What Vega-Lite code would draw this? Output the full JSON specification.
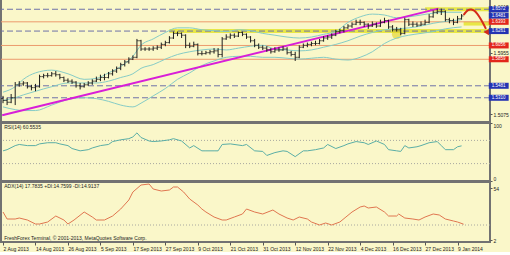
{
"$schema":"https://vega.github.io/schema/vega-lite/v6.json",
"padding":{"left":-3,"top":-2,"right":0,"bottom":0},
"background":"#FAF7C9",
"spacing":1,
"bounds":"flush",
"config":{
 "view":{"stroke":"#727272","strokeWidth":2},
 "font":"Liberation Sans",
 "axis":{"labelFont":"Liberation Sans","labelFontSize":5,"labelColor":"#222222","tickColor":"#555555","tickSize":2,"labelPadding":1,"domain":false,"grid":false,"labelFlush":true,"labelOverlap":false}
},
"datasets":{
"bars":[
{"i":0,"o":1.5298,"h":1.5337,"l":1.5233,"c":1.5272},
{"i":1,"o":1.5272,"h":1.5311,"l":1.5206,"c":1.5246},
{"i":2,"o":1.5246,"h":1.5364,"l":1.5233,"c":1.5311},
{"i":3,"o":1.5311,"h":1.5534,"l":1.5206,"c":1.5495},
{"i":4,"o":1.5495,"h":1.5547,"l":1.5468,"c":1.5508},
{"i":5,"o":1.5508,"h":1.5547,"l":1.5481,"c":1.5521},
{"i":6,"o":1.5521,"h":1.5534,"l":1.5442,"c":1.5468},
{"i":7,"o":1.5468,"h":1.5495,"l":1.5416,"c":1.5455},
{"i":8,"o":1.5455,"h":1.5508,"l":1.5403,"c":1.5468},
{"i":9,"o":1.5468,"h":1.5639,"l":1.5455,"c":1.5612},
{"i":10,"o":1.5612,"h":1.5652,"l":1.5586,"c":1.5626},
{"i":11,"o":1.5626,"h":1.5665,"l":1.5599,"c":1.5626},
{"i":12,"o":1.5626,"h":1.5678,"l":1.5612,"c":1.5652},
{"i":13,"o":1.5652,"h":1.5691,"l":1.5612,"c":1.5639},
{"i":14,"o":1.5639,"h":1.5652,"l":1.5573,"c":1.5599},
{"i":15,"o":1.5599,"h":1.5612,"l":1.5534,"c":1.556},
{"i":16,"o":1.556,"h":1.5586,"l":1.5521,"c":1.5547},
{"i":17,"o":1.5547,"h":1.5573,"l":1.5508,"c":1.5534},
{"i":18,"o":1.5534,"h":1.5547,"l":1.5455,"c":1.5481},
{"i":19,"o":1.5481,"h":1.5521,"l":1.5429,"c":1.5468},
{"i":20,"o":1.5468,"h":1.5521,"l":1.5455,"c":1.5495},
{"i":21,"o":1.5495,"h":1.5547,"l":1.5481,"c":1.5521},
{"i":22,"o":1.5521,"h":1.5573,"l":1.5495,"c":1.5547},
{"i":23,"o":1.5547,"h":1.5612,"l":1.5534,"c":1.5573},
{"i":24,"o":1.5573,"h":1.5639,"l":1.5547,"c":1.5599},
{"i":25,"o":1.5599,"h":1.5652,"l":1.556,"c":1.5599},
{"i":26,"o":1.5599,"h":1.5678,"l":1.5586,"c":1.5652},
{"i":27,"o":1.5652,"h":1.5717,"l":1.5626,"c":1.5691},
{"i":28,"o":1.5691,"h":1.5756,"l":1.5665,"c":1.573},
{"i":29,"o":1.573,"h":1.5809,"l":1.5704,"c":1.5783},
{"i":30,"o":1.5783,"h":1.5848,"l":1.5756,"c":1.5822},
{"i":31,"o":1.5822,"h":1.5887,"l":1.5796,"c":1.5861},
{"i":32,"o":1.5861,"h":1.5914,"l":1.5848,"c":1.5887},
{"i":33,"o":1.5887,"h":1.6149,"l":1.5874,"c":1.6123},
{"i":34,"o":1.6123,"h":1.6136,"l":1.5979,"c":1.6005},
{"i":35,"o":1.6005,"h":1.6031,"l":1.5979,"c":1.6005},
{"i":36,"o":1.6005,"h":1.6031,"l":1.5979,"c":1.6005},
{"i":37,"o":1.6005,"h":1.6045,"l":1.5979,"c":1.6018},
{"i":38,"o":1.6018,"h":1.6058,"l":1.5992,"c":1.6031},
{"i":39,"o":1.6031,"h":1.6097,"l":1.6005,"c":1.6071},
{"i":40,"o":1.6071,"h":1.6123,"l":1.6045,"c":1.6097},
{"i":41,"o":1.6097,"h":1.6189,"l":1.6084,"c":1.6162},
{"i":42,"o":1.6162,"h":1.6254,"l":1.6149,"c":1.6228},
{"i":43,"o":1.6228,"h":1.6254,"l":1.6189,"c":1.6228},
{"i":44,"o":1.6228,"h":1.6241,"l":1.6162,"c":1.6202},
{"i":45,"o":1.6202,"h":1.6215,"l":1.6018,"c":1.6058},
{"i":46,"o":1.6058,"h":1.6097,"l":1.6018,"c":1.6045},
{"i":47,"o":1.6045,"h":1.611,"l":1.6031,"c":1.6071},
{"i":48,"o":1.6071,"h":1.6084,"l":1.5914,"c":1.594},
{"i":49,"o":1.594,"h":1.5979,"l":1.5914,"c":1.594},
{"i":50,"o":1.594,"h":1.5979,"l":1.5927,"c":1.5953},
{"i":51,"o":1.5953,"h":1.5992,"l":1.5927,"c":1.5966},
{"i":52,"o":1.5966,"h":1.6018,"l":1.594,"c":1.5979},
{"i":53,"o":1.5979,"h":1.6018,"l":1.5887,"c":1.5927},
{"i":54,"o":1.5927,"h":1.6176,"l":1.5887,"c":1.6149},
{"i":55,"o":1.6149,"h":1.6215,"l":1.6136,"c":1.6176},
{"i":56,"o":1.6176,"h":1.6228,"l":1.6149,"c":1.6202},
{"i":57,"o":1.6202,"h":1.6228,"l":1.6162,"c":1.6189},
{"i":58,"o":1.6189,"h":1.6254,"l":1.6176,"c":1.6241},
{"i":59,"o":1.6241,"h":1.6254,"l":1.6189,"c":1.6215},
{"i":60,"o":1.6215,"h":1.6228,"l":1.6149,"c":1.6176},
{"i":61,"o":1.6176,"h":1.6189,"l":1.6097,"c":1.6123},
{"i":62,"o":1.6123,"h":1.6149,"l":1.6031,"c":1.6058},
{"i":63,"o":1.6058,"h":1.6084,"l":1.6005,"c":1.6031},
{"i":64,"o":1.6031,"h":1.6058,"l":1.5992,"c":1.6018},
{"i":65,"o":1.6018,"h":1.6045,"l":1.5966,"c":1.5992},
{"i":66,"o":1.5992,"h":1.6018,"l":1.594,"c":1.5966},
{"i":67,"o":1.5966,"h":1.6031,"l":1.5953,"c":1.5992},
{"i":68,"o":1.5992,"h":1.6031,"l":1.5966,"c":1.5992},
{"i":69,"o":1.5992,"h":1.6045,"l":1.5979,"c":1.6005},
{"i":70,"o":1.6005,"h":1.6031,"l":1.5927,"c":1.5953},
{"i":71,"o":1.5953,"h":1.5979,"l":1.5901,"c":1.5927},
{"i":72,"o":1.5927,"h":1.5966,"l":1.5835,"c":1.5887},
{"i":73,"o":1.5887,"h":1.6058,"l":1.5874,"c":1.6031},
{"i":74,"o":1.6031,"h":1.6084,"l":1.6018,"c":1.6058},
{"i":75,"o":1.6058,"h":1.6097,"l":1.6031,"c":1.6071},
{"i":76,"o":1.6071,"h":1.611,"l":1.6045,"c":1.6084},
{"i":77,"o":1.6084,"h":1.6123,"l":1.6058,"c":1.6084},
{"i":78,"o":1.6084,"h":1.6149,"l":1.6071,"c":1.6123},
{"i":79,"o":1.6123,"h":1.6189,"l":1.611,"c":1.6162},
{"i":80,"o":1.6162,"h":1.6202,"l":1.6136,"c":1.6176},
{"i":81,"o":1.6176,"h":1.6228,"l":1.6149,"c":1.6202},
{"i":82,"o":1.6202,"h":1.628,"l":1.6189,"c":1.6254},
{"i":83,"o":1.6254,"h":1.6293,"l":1.6228,"c":1.6267},
{"i":84,"o":1.6267,"h":1.6333,"l":1.6241,"c":1.6307},
{"i":85,"o":1.6307,"h":1.6359,"l":1.6293,"c":1.6333},
{"i":86,"o":1.6333,"h":1.6385,"l":1.6307,"c":1.6359},
{"i":87,"o":1.6359,"h":1.6424,"l":1.6346,"c":1.6385},
{"i":88,"o":1.6385,"h":1.6424,"l":1.6346,"c":1.6385},
{"i":89,"o":1.6385,"h":1.6398,"l":1.632,"c":1.6359},
{"i":90,"o":1.6359,"h":1.6372,"l":1.6293,"c":1.6333},
{"i":91,"o":1.6333,"h":1.6398,"l":1.632,"c":1.6359},
{"i":92,"o":1.6359,"h":1.6385,"l":1.6307,"c":1.6333},
{"i":93,"o":1.6333,"h":1.6424,"l":1.632,"c":1.6385},
{"i":94,"o":1.6385,"h":1.6451,"l":1.6372,"c":1.6411},
{"i":95,"o":1.6411,"h":1.6424,"l":1.6293,"c":1.632},
{"i":96,"o":1.632,"h":1.6346,"l":1.6254,"c":1.628},
{"i":97,"o":1.628,"h":1.632,"l":1.6254,"c":1.628},
{"i":98,"o":1.628,"h":1.6307,"l":1.6202,"c":1.6228},
{"i":99,"o":1.6228,"h":1.6451,"l":1.6215,"c":1.6424},
{"i":100,"o":1.6424,"h":1.6437,"l":1.6333,"c":1.6359},
{"i":101,"o":1.6359,"h":1.6398,"l":1.632,"c":1.6359},
{"i":102,"o":1.6359,"h":1.6385,"l":1.632,"c":1.6346},
{"i":103,"o":1.6346,"h":1.6398,"l":1.6333,"c":1.6359},
{"i":104,"o":1.6359,"h":1.6424,"l":1.6346,"c":1.6385},
{"i":105,"o":1.6385,"h":1.6503,"l":1.6372,"c":1.6464},
{"i":106,"o":1.6464,"h":1.6555,"l":1.6451,"c":1.6529},
{"i":107,"o":1.6529,"h":1.6582,"l":1.6503,"c":1.6542},
{"i":108,"o":1.6542,"h":1.6582,"l":1.649,"c":1.6542},
{"i":109,"o":1.6542,"h":1.6555,"l":1.6398,"c":1.6424},
{"i":110,"o":1.6424,"h":1.6451,"l":1.6372,"c":1.6411},
{"i":111,"o":1.6411,"h":1.6437,"l":1.6346,"c":1.6385},
{"i":112,"o":1.6385,"h":1.6477,"l":1.6372,"c":1.6437},
{"i":113,"o":1.6437,"h":1.6503,"l":1.6424,"c":1.6477}
],
"bb":[
{"i":0,"u":1.539,"m":1.5272,"l":1.518},
{"i":3,"u":1.5468,"m":1.5311,"l":1.5141},
{"i":5,"u":1.5573,"m":1.5351,"l":1.5128},
{"i":8,"u":1.5665,"m":1.5403,"l":1.5128},
{"i":12,"u":1.5704,"m":1.5468,"l":1.5206},
{"i":16,"u":1.5652,"m":1.5521,"l":1.5285},
{"i":20,"u":1.5573,"m":1.5521,"l":1.5311},
{"i":23,"u":1.5586,"m":1.5521,"l":1.5298},
{"i":26,"u":1.5665,"m":1.5547,"l":1.5259},
{"i":29,"u":1.5756,"m":1.5599,"l":1.5206},
{"i":32,"u":1.5901,"m":1.5652,"l":1.518},
{"i":34,"u":1.6058,"m":1.573,"l":1.5233},
{"i":37,"u":1.6149,"m":1.5783,"l":1.5337},
{"i":40,"u":1.6241,"m":1.5861,"l":1.5442},
{"i":43,"u":1.6307,"m":1.5927,"l":1.5573},
{"i":46,"u":1.6307,"m":1.5966,"l":1.5665},
{"i":49,"u":1.628,"m":1.5992,"l":1.577},
{"i":52,"u":1.6267,"m":1.6005,"l":1.5835},
{"i":55,"u":1.6254,"m":1.5992,"l":1.5887},
{"i":58,"u":1.628,"m":1.6018,"l":1.5901},
{"i":61,"u":1.6267,"m":1.6045,"l":1.5901},
{"i":64,"u":1.6228,"m":1.6058,"l":1.5887},
{"i":67,"u":1.6202,"m":1.6005,"l":1.5887},
{"i":70,"u":1.6176,"m":1.5992,"l":1.5874},
{"i":73,"u":1.6162,"m":1.5979,"l":1.5861},
{"i":76,"u":1.6176,"m":1.5992,"l":1.5874},
{"i":79,"u":1.6215,"m":1.6031,"l":1.5887},
{"i":82,"u":1.6254,"m":1.6071,"l":1.5861},
{"i":85,"u":1.6385,"m":1.6123,"l":1.5848},
{"i":88,"u":1.6464,"m":1.6189,"l":1.5887},
{"i":91,"u":1.6503,"m":1.6241,"l":1.5966},
{"i":94,"u":1.649,"m":1.628,"l":1.6084},
{"i":97,"u":1.6451,"m":1.6293,"l":1.6162},
{"i":100,"u":1.6464,"m":1.6307,"l":1.6202},
{"i":103,"u":1.649,"m":1.6333,"l":1.6228},
{"i":106,"u":1.6516,"m":1.6372,"l":1.6254},
{"i":109,"u":1.6529,"m":1.6398,"l":1.6293},
{"i":113,"u":1.6529,"m":1.6424,"l":1.632}
],
"dashLevels":[{"p":1.6572},{"p":1.6261},{"p":1.5481},{"p":1.531}],
"solidLevels":[{"p":1.6393},{"p":1.6056},{"p":1.5859}],
"zones":[{"a":41,"b":120,"p":1.6261},{"a":104,"b":120,"p":1.6572},{"a":113.5,"b":120,"p":1.6368}],
"spot":[{"i":97,"p":1.6215}],
"trend":[{"i":-0.2,"p":1.5062},{"i":107.3,"p":1.6581}],
"arrow":[{"i":113.5,"p":1.649},{"i":114.5,"p":1.6555},{"i":115.3,"p":1.6568},{"i":116,"p":1.6555},{"i":119,"p":1.6293}],
"arrowHead":[{"i":119.4,"p":1.6235}],
"tagsBlue":[{"p":1.6572},{"p":1.6481},{"p":1.6261},{"p":1.5481},{"p":1.531}],
"tagsRed":[{"p":1.6393},{"p":1.6056},{"p":1.5859}],
"rsi":[
{"i":0,"v":52},{"i":1,"v":54},{"i":3,"v":61},{"i":4,"v":63},{"i":6,"v":61},{"i":8,"v":61},{"i":9,"v":64},{"i":11,"v":66},{"i":13,"v":66},{"i":14,"v":64},{"i":16,"v":61},{"i":17,"v":56},{"i":19,"v":52},{"i":21,"v":54},{"i":22,"v":57},{"i":24,"v":61},{"i":26,"v":63},{"i":27,"v":68},{"i":29,"v":71},{"i":31,"v":73},{"i":32,"v":76},{"i":33,"v":83},{"i":34,"v":75},{"i":36,"v":69},{"i":37,"v":68},{"i":39,"v":69},{"i":41,"v":71},{"i":42,"v":73},{"i":44,"v":69},{"i":46,"v":57},{"i":47,"v":61},{"i":49,"v":52},{"i":50,"v":52},{"i":52,"v":52},{"i":53,"v":52},{"i":54,"v":63},{"i":56,"v":64},{"i":59,"v":61},{"i":60,"v":63},{"i":62,"v":52},{"i":64,"v":51},{"i":65,"v":44},{"i":67,"v":49},{"i":69,"v":52},{"i":70,"v":51},{"i":72,"v":42},{"i":74,"v":52},{"i":75,"v":52},{"i":77,"v":54},{"i":79,"v":57},{"i":80,"v":63},{"i":82,"v":56},{"i":84,"v":61},{"i":85,"v":64},{"i":87,"v":68},{"i":89,"v":66},{"i":90,"v":63},{"i":92,"v":69},{"i":94,"v":63},{"i":95,"v":54},{"i":97,"v":52},{"i":98,"v":51},{"i":99,"v":61},{"i":100,"v":57},{"i":102,"v":59},{"i":103,"v":61},{"i":105,"v":66},{"i":107,"v":68},{"i":108,"v":61},{"i":109,"v":54},{"i":111,"v":54},{"i":112,"v":59},{"i":113,"v":60.6}
],
"adx":[
{"i":0,"v":30},{"i":1,"v":23},{"i":3,"v":23},{"i":4,"v":24},{"i":6,"v":22},{"i":8,"v":18},{"i":9,"v":18},{"i":11,"v":20},{"i":13,"v":26},{"i":15,"v":22},{"i":16,"v":18},{"i":17.5,"v":22},{"i":20,"v":30},{"i":22,"v":25},{"i":23,"v":22},{"i":25,"v":22},{"i":27,"v":26},{"i":29,"v":33},{"i":31,"v":42},{"i":32,"v":50},{"i":34,"v":57},{"i":36,"v":58},{"i":37,"v":53},{"i":39,"v":51},{"i":41,"v":52},{"i":42,"v":55},{"i":43,"v":55},{"i":44.5,"v":50},{"i":46,"v":43},{"i":48,"v":37},{"i":49,"v":33},{"i":50,"v":30},{"i":52,"v":25},{"i":54,"v":22},{"i":55,"v":22},{"i":57,"v":25},{"i":59,"v":28},{"i":60,"v":33},{"i":62,"v":30},{"i":64,"v":28},{"i":66.5,"v":32},{"i":68,"v":28},{"i":70,"v":24},{"i":71.5,"v":22},{"i":73,"v":25},{"i":75,"v":23},{"i":76,"v":20},{"i":78,"v":17},{"i":79.5,"v":19},{"i":81,"v":17},{"i":83,"v":20},{"i":84.5,"v":25},{"i":86,"v":30},{"i":88,"v":35},{"i":89,"v":36},{"i":90,"v":34},{"i":92,"v":35},{"i":94,"v":30},{"i":95,"v":26},{"i":97,"v":26},{"i":97.5,"v":28},{"i":99,"v":24},{"i":101,"v":23},{"i":102.5,"v":22},{"i":104,"v":25},{"i":106,"v":28},{"i":107.5,"v":27},{"i":109,"v":23},{"i":111,"v":21},{"i":112,"v":20},{"i":113.5,"v":17.8}
],
"rsiLevels":[{"v":70},{"v":30}],
"adxLevels":[{"v":17}],
"rsiTitle":[{"t":"RSI(14) 60.5535"}],
"adxTitle":[{"t":"ADX(14) 17.7835 +DI:14.7599 -DI:14.9137"}],
"credit":[{"t":"FreshForex Terminal, © 2001-2013, MetaQuotes Software Corp."}]
},
"vconcat":[
{
 "width":489,"height":123,
 "layer":[
  {"data":{"name":"zones"},"mark":{"type":"rule","color":"#E2E21A","strokeWidth":4,"opacity":0.75},
   "encoding":{"x":{"field":"a","type":"quantitative","scale":{"domain":[-0.5,120],"nice":false,"zero":false},"axis":null},"x2":{"field":"b"},
   "y":{"field":"p","type":"quantitative","scale":{"domain":[1.5036,1.6647],"nice":false,"zero":false},
        "axis":{"orient":"right","title":null,"values":[1.6615,1.6175,1.5955,1.5735,1.5075],"format":".4f","labelFlush":false}}}},
  {"data":{"name":"dashLevels"},"mark":{"type":"rule","color":"#6F72A8","strokeWidth":1,"strokeDash":[6,3]},
   "encoding":{"y":{"field":"p","type":"quantitative"}}},
  {"data":{"name":"solidLevels"},"mark":{"type":"rule","color":"#EC9A6C","strokeWidth":1},
   "encoding":{"y":{"field":"p","type":"quantitative"}}},
  {"data":{"name":"spot"},"mark":{"type":"point","filled":true,"color":"#E2D21A","opacity":0.6,"size":90},
   "encoding":{"x":{"field":"i","type":"quantitative"},"y":{"field":"p","type":"quantitative"}}},
  {"data":{"name":"bb"},"mark":{"type":"line","color":"#86CCC6","strokeWidth":1,"interpolate":"monotone"},
   "encoding":{"x":{"field":"i","type":"quantitative"},"y":{"field":"u","type":"quantitative"}}},
  {"data":{"name":"bb"},"mark":{"type":"line","color":"#86CCC6","strokeWidth":1,"interpolate":"monotone"},
   "encoding":{"x":{"field":"i","type":"quantitative"},"y":{"field":"m","type":"quantitative"}}},
  {"data":{"name":"bb"},"mark":{"type":"line","color":"#86CCC6","strokeWidth":1,"interpolate":"monotone"},
   "encoding":{"x":{"field":"i","type":"quantitative"},"y":{"field":"l","type":"quantitative"}}},
  {"data":{"name":"trend"},"mark":{"type":"line","color":"#D81ED8","strokeWidth":2},
   "encoding":{"x":{"field":"i","type":"quantitative"},"y":{"field":"p","type":"quantitative"}}},
  {"data":{"name":"bars"},"mark":{"type":"rule","color":"#1E1E1E","strokeWidth":1},
   "encoding":{"x":{"field":"i","type":"quantitative"},"y":{"field":"l","type":"quantitative"},"y2":{"field":"h"}}},
  {"data":{"name":"bars"},"mark":{"type":"tick","orient":"horizontal","color":"#1E1E1E","size":2,"thickness":1,"xOffset":-1},
   "encoding":{"x":{"field":"i","type":"quantitative"},"y":{"field":"o","type":"quantitative"}}},
  {"data":{"name":"bars"},"mark":{"type":"tick","orient":"horizontal","color":"#1E1E1E","size":2,"thickness":1,"xOffset":1},
   "encoding":{"x":{"field":"i","type":"quantitative"},"y":{"field":"c","type":"quantitative"}}},
  {"data":{"name":"arrow"},"mark":{"type":"line","color":"#D42A1A","strokeWidth":2,"interpolate":"monotone"},
   "encoding":{"x":{"field":"i","type":"quantitative"},"y":{"field":"p","type":"quantitative"}}},
  {"data":{"name":"arrowHead"},"mark":{"type":"point","shape":"triangle-down","filled":true,"color":"#D42A1A","size":40,"angle":330,"opacity":1},
   "encoding":{"x":{"field":"i","type":"quantitative"},"y":{"field":"p","type":"quantitative"}}},
  {"data":{"name":"tagsBlue"},"mark":{"type":"bar","height":6,"color":"#2433B2"},
   "encoding":{"x":{"datum":119.7,"type":"quantitative"},"x2":{"datum":124.6},"y":{"field":"p","type":"quantitative"}}},
  {"data":{"name":"tagsRed"},"mark":{"type":"bar","height":6,"color":"#E2261C"},
   "encoding":{"x":{"datum":119.7,"type":"quantitative"},"x2":{"datum":124.6},"y":{"field":"p","type":"quantitative"}}},
  {"data":{"name":"tagsBlue"},"mark":{"type":"text","color":"#FFFFFF","fontSize":4.5,"align":"center","baseline":"middle"},
   "encoding":{"x":{"datum":122.15,"type":"quantitative"},"y":{"field":"p","type":"quantitative"},"text":{"field":"p","format":".4f"}}},
  {"data":{"name":"tagsRed"},"mark":{"type":"text","color":"#FFFFFF","fontSize":4.5,"align":"center","baseline":"middle"},
   "encoding":{"x":{"datum":122.15,"type":"quantitative"},"y":{"field":"p","type":"quantitative"},"text":{"field":"p","format":".4f"}}}
 ]
},
{
 "width":489,"height":58,
 "layer":[
  {"data":{"name":"rsiLevels"},"mark":{"type":"rule","color":"#A8A8A0","strokeWidth":1,"strokeDash":[1,2]},
   "encoding":{"y":{"field":"v","type":"quantitative","scale":{"domain":[0,100],"nice":false},"axis":{"orient":"right","title":null,"values":[100,70,30,0]}}}},
  {"data":{"name":"rsi"},"mark":{"type":"line","color":"#5AAEA6","strokeWidth":1},
   "encoding":{"x":{"field":"i","type":"quantitative","scale":{"domain":[-0.5,120],"nice":false,"zero":false},"axis":null},"y":{"field":"v","type":"quantitative"}}},
  {"data":{"name":"rsiTitle"},"mark":{"type":"text","fontSize":5,"color":"#222222","align":"left","baseline":"middle"},
   "encoding":{"x":{"datum":0.3,"type":"quantitative"},"y":{"datum":93,"type":"quantitative"},"text":{"field":"t"}}}
 ]
},
{
 "width":489,"height":60,
 "layer":[
  {"data":{"name":"adxLevels"},"mark":{"type":"rule","color":"#A8A8A0","strokeWidth":1,"strokeDash":[1,2]},
   "encoding":{"y":{"field":"v","type":"quantitative","scale":{"domain":[0,60],"nice":false},"axis":{"orient":"right","title":null,"values":[54,17,2]}}}},
  {"data":{"name":"adx"},"mark":{"type":"line","color":"#E07650","strokeWidth":1},
   "encoding":{"x":{"field":"i","type":"quantitative","scale":{"domain":[-0.5,120],"nice":false,"zero":false},
     "axis":{"orient":"bottom","title":null,"values":[0,8,16,24,32,40,48,56,64,72,80,88,96,104,112],"tickCount":30,"labelAlign":"left","tickSize":3,"labelPadding":1,"labelFlush":false,"labelOverlap":false,
       "labelExpr":"['2 Aug 2013','14 Aug 2013','26 Aug 2013','5 Sep 2013','17 Sep 2013','27 Sep 2013','9 Oct 2013','21 Oct 2013','31 Oct 2013','12 Nov 2013','22 Nov 2013','4 Dec 2013','16 Dec 2013','27 Dec 2013','9 Jan 2014'][round(datum.value/8)]"}},
     "y":{"field":"v","type":"quantitative"}}},
  {"data":{"name":"adxTitle"},"mark":{"type":"text","fontSize":5,"color":"#222222","align":"left","baseline":"middle"},
   "encoding":{"x":{"datum":0.3,"type":"quantitative"},"y":{"datum":56,"type":"quantitative"},"text":{"field":"t"}}},
  {"data":{"name":"credit"},"mark":{"type":"text","fontSize":5,"color":"#222222","align":"left","baseline":"middle"},
   "encoding":{"x":{"datum":0.3,"type":"quantitative"},"y":{"datum":4,"type":"quantitative"},"text":{"field":"t"}}}
 ]
}
]
}
